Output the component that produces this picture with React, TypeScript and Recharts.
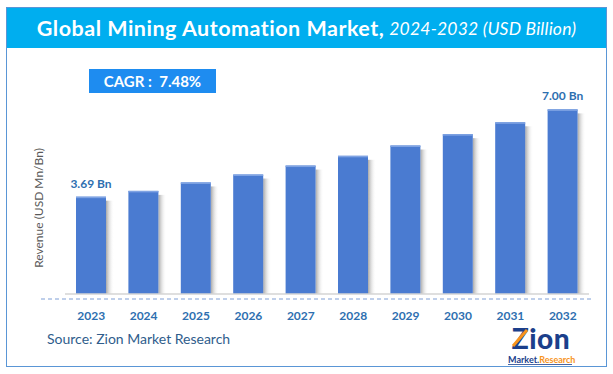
import React from 'react';
import { BarChart, Bar, XAxis, YAxis, LabelList } from 'recharts';

const years = ['2023', '2024', '2025', '2026', '2027', '2028', '2029', '2030', '2031', '2032'];
const revenue = [3.69, 3.91, 4.23, 4.53, 4.87, 5.24, 5.63, 6.06, 6.51, 7.0];
const shownLabels = ['3.69 Bn', '', '', '', '', '', '', '', '', '7.00 Bn'];

const data = years.map((year, i) => ({ year, revenue: revenue[i], label: shownLabels[i] }));

const FONT = 'Lato, "Open Sans", sans-serif';
const BAR_BLUE = '#4a7bd1';
const TEXT_BLUE = '#2e6fb0';

// bar with a soft grey shadow on the right side
const ShadowBar = (props: any) => {
  const { x, y, width, height } = props;
  if (!height || height <= 0) return null;
  return (
    <g>
      <rect x={x + width} y={y + 4} width={8} height={height - 4} fill="url(#barShadow)" />
      <rect x={x} y={y} width={width} height={height} fill={BAR_BLUE} />
      <rect x={x} y={y} width={width} height={1.5} fill="#7fa3e3" />
    </g>
  );
};

const renderLabel = (props: any) => {
  const { x, y, width, value } = props;
  if (!value) return null;
  return (
    <text x={x + width / 2} y={y - 9} textAnchor="middle" fill={TEXT_BLUE} fontSize={12} fontWeight={700} fontFamily={FONT}>
      {value}
    </text>
  );
};

export default function App() {
  return (
    <div style={{ position: 'relative', width: 613, height: 374, background: '#fff', fontFamily: FONT, overflow: 'hidden' }}>
      <style>{'body{margin:0}'}</style>
      {/* frame + title bar */}
      <div style={{ position: 'absolute', left: 6, top: 7, width: 599, height: 358, border: '1.5px solid #5a96d6' }} />
      <div style={{ position: 'absolute', left: 7, top: 8, width: 599, height: 40, background: '#00aeef', display: 'flex', alignItems: 'center', justifyContent: 'center', color: '#fff', whiteSpace: 'nowrap' }}>
        <span style={{ fontSize: 21.5, fontWeight: 700, letterSpacing: 0.5 }}>Global Mining Automation Market,</span>
        <span style={{ fontSize: 17.5, fontStyle: 'italic', marginLeft: 5, letterSpacing: 0.2 }}>2024-2032 (USD Billion)</span>
      </div>
      {/* CAGR box */}
      <div style={{ position: 'absolute', left: 89, top: 69, width: 127, height: 24, background: '#1e8cf0', color: '#fff', fontSize: 15, fontWeight: 700, display: 'flex', alignItems: 'center', justifyContent: 'center' }}>
        CAGR :&nbsp; 7.48%
      </div>

      <div style={{ position: 'absolute', left: 0, top: 0 }}>
        <BarChart width={613} height={374} data={data} margin={{ top: 83, right: 24, left: 65, bottom: 50 }} barCategoryGap={0}>
          <defs>
            <linearGradient id="barShadow" x1="0" y1="0" x2="1" y2="0">
              <stop offset="0%" stopColor="#8a8a8a" stopOpacity={0.75} />
              <stop offset="100%" stopColor="#ffffff" stopOpacity={0} />
            </linearGradient>
          </defs>
          <XAxis
            dataKey="year"
            height={30}
            axisLine={{ stroke: '#d4d4d4', strokeWidth: 1.5 }}
            tickLine={false}
            tickMargin={11}
            tick={{ fill: TEXT_BLUE, fontSize: 12, fontWeight: 700, fontFamily: FONT }}
            interval={0}
          />
          <YAxis hide domain={[0, 8]} />
          <Bar dataKey="revenue" barSize={30} shape={ShadowBar} isAnimationActive={false}>
            <LabelList dataKey="label" content={renderLabel} />
          </Bar>
        </BarChart>
      </div>

      {/* decorations: dashed base line, axis title, source and logo */}
      <svg width={613} height={374} style={{ position: 'absolute', left: 0, top: 0, pointerEvents: 'none' }}>
        <line x1={41} y1={299} x2={593} y2={299} stroke="#7f9fd6" strokeWidth={1} strokeDasharray="4 3" />
        <text x={40} y={208} transform="rotate(-90 40 208)" textAnchor="middle" dominantBaseline="middle" fill="#595959" fontSize={12} fontFamily={FONT}>
          Revenue (USD Mn/Bn)
        </text>
        <text x={47} y={344} fill="#2f5d8c" fontSize={14} fontFamily={FONT}>
          Source: Zion Market Research
        </text>
        <text x={541} y={349} textAnchor="middle" fill="#1b3f8b" fontSize={28} fontWeight={900} fontFamily={FONT} letterSpacing={0.5}>
          Zion
        </text>
        <line x1={513} y1={346} x2={527} y2={330} stroke="#f7941d" strokeWidth={3} />
        <text x={508} y={363} fill="#1b3f8b" fontSize={9} fontWeight={700} fontFamily={FONT}>
          Market.<tspan fill="#f7941d">Research</tspan>
        </text>
        <line x1={508} y1={364.5} x2={572} y2={364.5} stroke="#1b3f8b" strokeWidth={0.8} />
      </svg>
    </div>
  );
}
